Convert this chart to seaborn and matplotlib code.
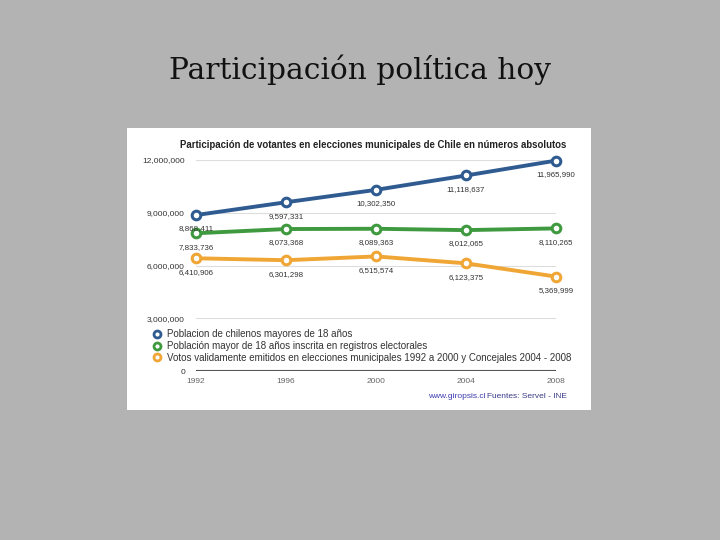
import pandas as pd
import numpy as np
import matplotlib
matplotlib.use("Agg")
import matplotlib.pyplot as plt
import seaborn as sns
from matplotlib.lines import Line2D
from matplotlib.patches import Rectangle

# DATA

years = [1992, 1996, 2000, 2004, 2008]

poblacion_18 = [8868411, 9597331, 10302350, 11118637, 11965990]
inscritos = [7833736, 8073368, 8089363, 8012065, 8110265]
votos_validos = [6410906, 6301298, 6515574, 6123375, 5369999]

series_names = [
    "Poblacion de chilenos mayores de 18 años",
    "Población mayor de 18 años inscrita en registros electorales",
    "Votos validamente emitidos en elecciones municipales 1992 a 2000 y Concejales 2004 - 2008",
]
colors = ["#2f5b91", "#3f9a3f", "#f0a634"]

y_ticks = [0, 3000000, 6000000, 9000000, 12000000]

df = pd.DataFrame({
    "anio": years * 3,
    "valor": poblacion_18 + inscritos + votos_validos,
    "serie": [series_names[0]] * 5 + [series_names[1]] * 5 + [series_names[2]] * 5,
})

# FIGURE

sns.set_theme(style="white")
plt.rcParams["font.family"] = ["Liberation Sans", "DejaVu Sans"]

fig = plt.figure(figsize=(7.2, 5.4), dpi=100)
fig.patch.set_facecolor("#b3b3b3")

# white chart panel (behind the axes)
fig.patches.append(Rectangle((127 / 720, 1 - 410 / 540), 464 / 720, 282 / 540,
                             transform=fig.transFigure, facecolor="white",
                             edgecolor="none", zorder=-5))

fig.text(0.5, 1 - 70 / 540, "Participación política hoy",
         family=["DejaVu Serif"], fontsize=21.3,
         ha="center", va="center", color="#111111")

ax = fig.add_axes([196 / 720, 1 - 371 / 540, 360 / 720, 211 / 540])
ax.set_facecolor("none")

sns.lineplot(data=df, x="anio", y="valor", hue="serie", hue_order=series_names,
             palette=colors, marker="o", markersize=6.2, markerfacecolor="white",
             markeredgewidth=2.2, linewidth=2.8, legend=False, ax=ax,
             clip_on=False, zorder=3)
for line, c in zip(ax.lines, colors):
    line.set_markeredgecolor(c)

ax.set_xlim(1992, 2008)
ax.set_ylim(0, 12000000)
ax.set_yticks(y_ticks)
ax.set_yticklabels([f"{t:,}" for t in y_ticks], fontsize=6, color="#333333")
ax.set_xticks(years)
ax.set_xticklabels([str(y) for y in years], fontsize=6, color="#666666")
ax.tick_params(axis="y", length=0, pad=8)
ax.tick_params(axis="x", length=0, pad=5)
ax.set_xlabel("")
ax.set_ylabel("")
for s in ax.spines.values():
    s.set_visible(False)
for t in y_ticks[1:]:
    ax.axhline(t, color="#dddddd", linewidth=0.8, zorder=1)
ax.axhline(0, color="#555555", linewidth=1.5, zorder=1)

# DATA LABELS

for vals in [poblacion_18, inscritos, votos_validos]:
    for x, v in zip(years, vals):
        ax.annotate(f"{v:,}", (x, v), xytext=(0, -7.5), textcoords="offset points",
                    ha="center", va="top", fontsize=5.7, color="#333333")

# CHART TITLE

fig.text(373 / 720, 1 - 145 / 540,
         "Participación de votantes en elecciones municipales de Chile en números absolutos",
         ha="center", va="center", fontsize=6.9, fontweight="bold", color="#222222")

# LEGEND

handles = [Line2D([], [], marker="o", linestyle="none", markerfacecolor="white",
                  markeredgecolor=c, markeredgewidth=2, markersize=5) for c in colors]
ax.legend(handles, series_names, loc="upper left",
          bbox_to_anchor=(152 / 720, 1 - 329 / 540), bbox_transform=fig.transFigure,
          frameon=False, fontsize=7.0, handletextpad=0.5, labelspacing=0.2,
          borderaxespad=0, borderpad=0, handlelength=1.0, labelcolor="#333333")

# FOOTER

fig.text(428 / 720, 1 - 396 / 540, "www.giropsis.cl", fontsize=6, color="#3b3bb0",
         ha="left", va="center")
fig.text(487 / 720, 1 - 396 / 540, "Fuentes: Servel - INE", fontsize=6,
         color="#3b3b8a", ha="left", va="center")

fig.savefig("out.png", dpi=100, facecolor=fig.get_facecolor())
